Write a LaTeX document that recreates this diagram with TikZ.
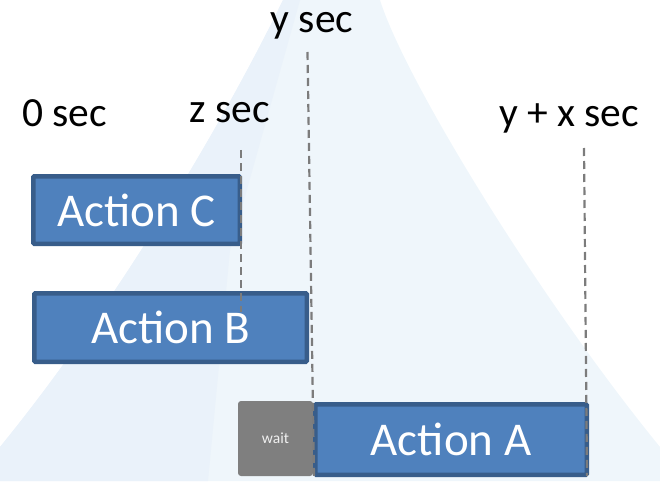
\documentclass[tikz,border=0pt]{standalone}
\usepackage{fontspec}
\setmainfont{Carlito}
\usepackage{tikz}

\definecolor{actfill}{HTML}{4F81BD}
\definecolor{actline}{HTML}{385D8A}
\definecolor{waitfill}{HTML}{7F7F7F}
\definecolor{markline}{HTML}{7C7C7C}
\definecolor{hazeout}{HTML}{EFF6FB}
\definecolor{hazein}{HTML}{EAF2FA}

\begin{document}
\begin{tikzpicture}
[x=1pt,y=-1pt,
 act/.style={draw=actline,fill=actfill,line width=4.5pt,rounded corners=1pt,
   text=white,inner sep=0pt,font=\fontsize{47}{56}\selectfont},
 waitbox/.style={fill=waitfill,rounded corners=3pt,inner sep=0pt,
   minimum width=75pt,minimum height=75pt,text=white!94!black,
   font=\fontsize{15.5}{18}\selectfont},
 timelbl/.style={anchor=base,inner sep=0pt,font=\fontsize{41.5}{48}\selectfont},
 timemark/.style={draw=markline,line width=2.2pt,dash pattern=on 8pt off 5pt}]
\useasboundingbox (0,0) rectangle (660,481);

% faint backdrop
\fill[hazeout] (283,0) .. controls (230,110) and (120,300) .. (0,447)
  -- (0,481) -- (660,481) -- (660,447)
  .. controls (540,300) and (405,80) .. (380,0) -- cycle;
\fill[hazein] (283,0) .. controls (230,110) and (120,300) .. (0,447)
  -- (0,481) -- (208,481) -- (230,250) -- (300,0) -- cycle;

% time labels
\node[timelbl] (t0) at (64.5,127) {0 sec};
\node[timelbl] (tz) at (230,123) {z sec};
\node[timelbl] (ty) at (312,33) {y sec};
\node[timelbl] (tyx) at (569,127) {y + x sec};

% actions
\node[act,minimum width=206.5pt,minimum height=67.5pt] (c) at (136.5,210) {Action C};
\node[act,minimum width=272.5pt,minimum height=68.5pt] (b) at (170.5,327.5) {Action B};
\node[waitbox] (w) at (275.5,438.5) {wait};
\node[act,minimum width=271.5pt,minimum height=70.5pt] (a) at (451,439.5) {Action A};

% time marks
\coordinate (ztop) at (241,150);
\coordinate (zbot) at (241,312);
\coordinate (ytop) at (307.5,52);
\coordinate (ybot) at (314,476);
\coordinate (yxtop) at (584,148);
\coordinate (yxbot) at (587,476);
\foreach \from/\to in {ztop/zbot,ytop/ybot,yxtop/yxbot}
	\draw[timemark] (\from) -- (\to);
\end{tikzpicture}
\end{document}
